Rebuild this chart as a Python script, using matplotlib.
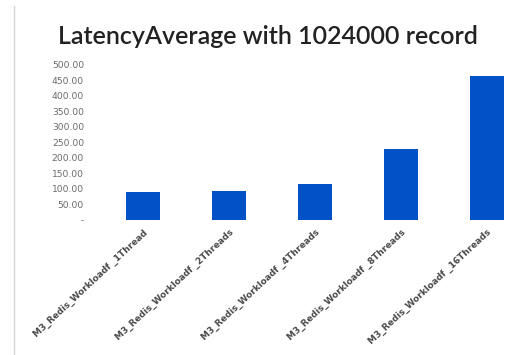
import matplotlib
matplotlib.use("Agg")
import matplotlib.pyplot as plt
from matplotlib.lines import Line2D

categories = [
    "M3_Redis_Workloadf _1Thread",
    "M3_Redis_Workloadf _2Threads",
    "M3_Redis_Workloadf _4Threads",
    "M3_Redis_Workloadf _8Threads",
    "M3_Redis_Workloadf _16Threads",
]
latency = [89, 93, 114, 229, 464]
y_ticks = [0, 50, 100, 150, 200, 250, 300, 350, 400, 450, 500]
y_tick_labels = [" -"] + [f"{v:.2f}" for v in y_ticks[1:]]

W, H = 527, 355
fig = plt.figure(figsize=(W / 100, H / 100), dpi=100)
fig.patch.set_facecolor("white")

ax = fig.add_axes([100 / W, (H - 219.5) / H, 427 / W, 154.5 / H])
x = list(range(len(categories)))
ax.bar(x, latency, width=0.4, color="#0152c6", zorder=2)

ax.set_xlim(-0.5, 4.465)
ax.set_ylim(0, 500)
ax.set_yticks(y_ticks)
ax.set_yticklabels(y_tick_labels, fontsize=6.6, color="#6a6a6a", family="DejaVu Sans")
ax.tick_params(axis="y", length=0, pad=11.5)
ax.set_xticks(x)
ax.set_xticklabels(categories, rotation=43, ha="right", rotation_mode="anchor",
                   fontsize=6.4, color="#4a4a4a", fontweight="bold", family="DejaVu Sans")
ax.tick_params(axis="x", length=0, pad=6)
for s in ax.spines.values():
    s.set_visible(False)

fig.text(268 / W, 1 - 37 / H, "LatencyAverage with 1024000 record",
         ha="center", va="center", fontsize=18, color="#222222", family="Lato",
         fontweight="semibold")

# thin frame line on the left edge
fig.add_artist(Line2D([14 / W, 14 / W], [0, 1 - 6 / H], transform=fig.transFigure,
                      color="#d6d6d6", lw=1))

fig.savefig("out.png", dpi=100)
